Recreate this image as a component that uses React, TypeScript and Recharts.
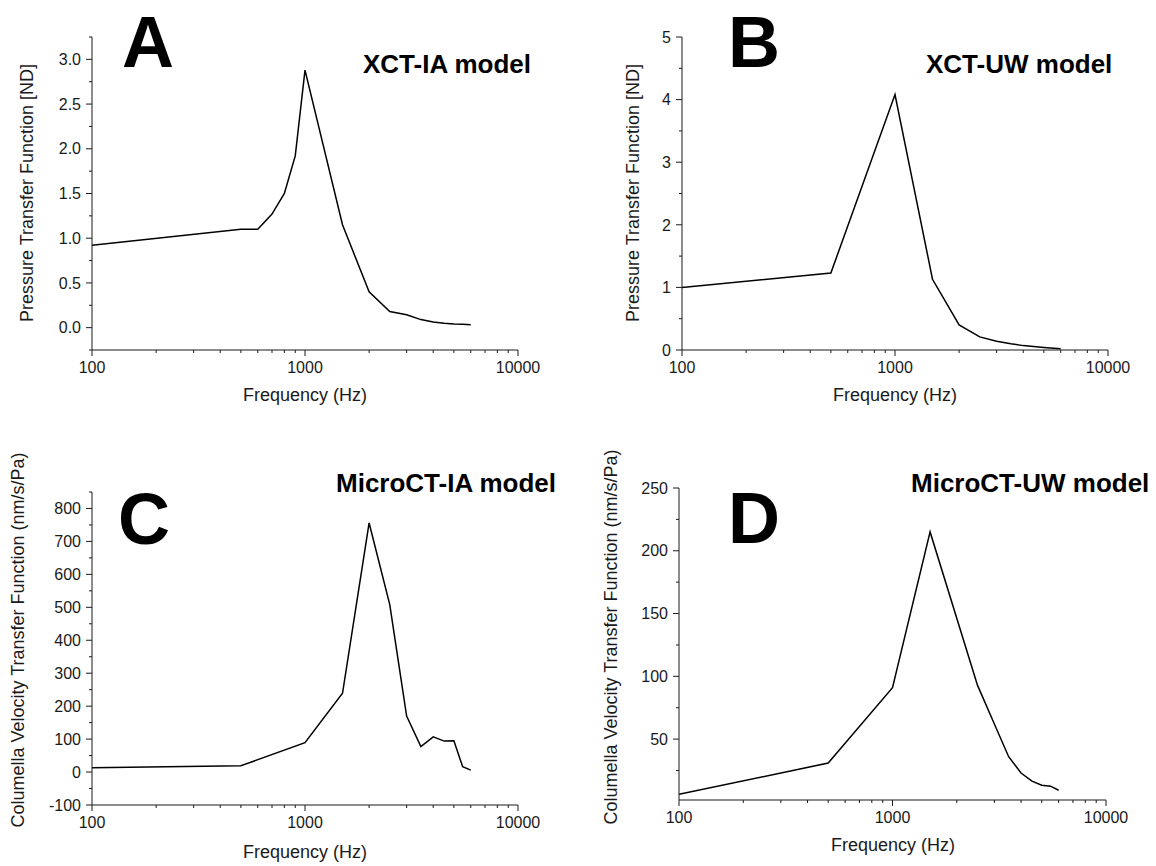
import React from 'react';
import { LineChart, Line, XAxis, YAxis } from 'recharts';

// ---- data ----
const FREQ_A = [100, 500, 600, 700, 800, 900, 1000, 1500, 2000, 2500, 3000, 3500, 4000, 4500, 5000, 5500, 6000];
const PTF_A = [0.92, 1.1, 1.1, 1.27, 1.5, 1.92, 2.88, 1.15, 0.4, 0.18, 0.145, 0.09, 0.064, 0.05, 0.042, 0.037, 0.033];

const FREQ_B = [100, 500, 1000, 1500, 2000, 2500, 3000, 3500, 4000, 5000, 6000];
const PTF_B = [1.0, 1.23, 4.08, 1.13, 0.4, 0.21, 0.14, 0.1, 0.07, 0.04, 0.02];

const FREQ_C = [100, 500, 1000, 1500, 2000, 2500, 3000, 3500, 4000, 4500, 5000, 5500, 6000];
const CVTF_C = [13, 19, 89, 239, 756, 508, 170, 77, 107, 94, 95, 16, 6];

const FREQ_D = [100, 500, 1000, 1500, 2500, 3000, 3500, 4000, 4500, 5000, 5500, 6000];
const CVTF_D = [6, 31, 91, 215, 93, 62, 36, 23, 16.5, 13.3, 12.5, 9.3];

// ---- ticks ----
const X_TICKS = [100, 200, 300, 400, 500, 600, 700, 800, 900, 1000, 2000, 3000, 4000, 5000, 6000, 7000, 8000, 9000, 10000];
const X_MAJOR = [100, 1000, 10000];

const Y_TICKS_A = [-0.25, 0, 0.25, 0.5, 0.75, 1, 1.25, 1.5, 1.75, 2, 2.25, 2.5, 2.75, 3, 3.25];
const Y_MAJOR_A = [0, 0.5, 1, 1.5, 2, 2.5, 3];

const Y_TICKS_B = [0, 0.5, 1, 1.5, 2, 2.5, 3, 3.5, 4, 4.5, 5];
const Y_MAJOR_B = [0, 1, 2, 3, 4, 5];

const Y_TICKS_C = [-100, -50, 0, 50, 100, 150, 200, 250, 300, 350, 400, 450, 500, 550, 600, 650, 700, 750, 800, 850];
const Y_MAJOR_C = [-100, 0, 100, 200, 300, 400, 500, 600, 700, 800];

const Y_TICKS_D = [25, 50, 75, 100, 125, 150, 175, 200, 225, 250];
const Y_MAJOR_D = [50, 100, 150, 200, 250];

const FONT = '"Liberation Sans", Arial, Helvetica, sans-serif';
const AXIS = '#1a1a1a';
const TEXT = '#1a1a1a';

const toData = (f: number[], v: number[]) => f.map((x, i) => ({ f: x, v: v[i] }));

const isIn = (arr: number[], v: number) => arr.some((m) => Math.abs(m - v) < 1e-9);

const XTick = (props: any) => {
  const { x, y, payload } = props;
  const v = payload.value;
  const major = isIn(X_MAJOR, v);
  return (
    <g>
      <line x1={x} y1={y} x2={x} y2={y + (major ? 6 : 3)} stroke={AXIS} strokeWidth={1} />
      {major && (
        <text x={x} y={y + 23} textAnchor="middle" fontSize={16} fill={TEXT} fontFamily={FONT}>
          {String(v)}
        </text>
      )}
    </g>
  );
};

const makeYTick = (majors: number[], fmt: (v: number) => string) => (props: any) => {
  const { x, y, payload } = props;
  const v = payload.value;
  const major = isIn(majors, v);
  return (
    <g>
      <line x1={x - (major ? 6 : 3)} y1={y} x2={x} y2={y} stroke={AXIS} strokeWidth={1} />
      {major && (
        <text x={x - 11} y={y + 5.7} textAnchor="end" fontSize={16} fill={TEXT} fontFamily={FONT}>
          {fmt(v)}
        </text>
      )}
    </g>
  );
};

type PanelProps = {
  left: number;
  top: number;
  height: number;
  margin: { top: number; right: number; bottom: number; left: number };
  yWidth: number;
  data: { f: number; v: number }[];
  yDomain: [number, number];
  yTicks: number[];
  yTick: (p: any) => React.ReactElement;
};

const Panel = ({ left, top, height, margin, yWidth, data, yDomain, yTicks, yTick }: PanelProps) => (
  <div style={{ position: 'absolute', left, top, width: 578, height }}>
    <LineChart width={578} height={height} data={data} margin={margin}>
      <XAxis
        dataKey="f"
        type="number"
        scale="log"
        domain={[100, 10000]}
        ticks={X_TICKS}
        interval={0}
        allowDataOverflow
        height={30}
        tickSize={0}
        tickMargin={0}
        tickLine={false}
        axisLine={{ stroke: AXIS, strokeWidth: 1 }}
        tick={XTick}
      />
      <YAxis
        type="number"
        domain={yDomain}
        ticks={yTicks}
        interval={0}
        allowDataOverflow
        width={yWidth}
        tickSize={0}
        tickMargin={0}
        tickLine={false}
        axisLine={{ stroke: AXIS, strokeWidth: 1 }}
        tick={yTick}
      />
      <Line
        dataKey="v"
        type="linear"
        dot={false}
        stroke="#000"
        strokeWidth={1.5}
        isAnimationActive={false}
      />
    </LineChart>
  </div>
);

const yTickA = makeYTick(Y_MAJOR_A, (v) => v.toFixed(1));
const yTickB = makeYTick(Y_MAJOR_B, (v) => String(v));
const yTickC = makeYTick(Y_MAJOR_C, (v) => String(v));
const yTickD = makeYTick(Y_MAJOR_D, (v) => String(v));

const T = ({ x, y, size, bold, children, anchor }: any) => (
  <text
    x={x}
    y={y}
    fontSize={size}
    fontWeight={bold ? 'bold' : 'normal'}
    fontFamily={FONT}
    fill={bold ? '#000' : TEXT}
    textAnchor={anchor || 'start'}
  >
    {children}
  </text>
);

const VLabel = ({ x, y, children }: any) => (
  <text
    transform={`translate(${x},${y}) rotate(-90)`}
    fontSize={18}
    fontFamily={FONT}
    fill={TEXT}
    textAnchor="middle"
  >
    {children}
  </text>
);

export default function App() {
  return (
    <div style={{ position: 'absolute', left: 0, top: 0, width: 1156, height: 866, background: '#fff', overflow: 'hidden' }}>
      <Panel
        left={0}
        top={0}
        height={430}
        margin={{ top: 37, right: 60, bottom: 50, left: 0 }}
        yWidth={92}
        data={toData(FREQ_A, PTF_A)}
        yDomain={[-0.25, 3.25]}
        yTicks={Y_TICKS_A}
        yTick={yTickA}
      />
      <Panel
        left={578}
        top={0}
        height={430}
        margin={{ top: 37, right: 48, bottom: 50, left: 0 }}
        yWidth={104}
        data={toData(FREQ_B, PTF_B)}
        yDomain={[0, 5]}
        yTicks={Y_TICKS_B}
        yTick={yTickB}
      />
      <Panel
        left={0}
        top={430}
        height={436}
        margin={{ top: 62, right: 60, bottom: 31, left: 0 }}
        yWidth={92}
        data={toData(FREQ_C, CVTF_C)}
        yDomain={[-100, 850]}
        yTicks={Y_TICKS_C}
        yTick={yTickC}
      />
      <Panel
        left={578}
        top={430}
        height={436}
        margin={{ top: 58, right: 50, bottom: 36, left: 0 }}
        yWidth={101}
        data={toData(FREQ_D, CVTF_D)}
        yDomain={[1.5, 250]}
        yTicks={Y_TICKS_D}
        yTick={yTickD}
      />
      <svg
        width={1156}
        height={866}
        style={{ position: 'absolute', left: 0, top: 0, pointerEvents: 'none' }}
      >
        <T x={122} y={67} size={72} bold>A</T>
        <T x={363} y={73} size={26} bold>XCT-IA model</T>
        <T x={728} y={67} size={72} bold>B</T>
        <T x={926} y={73} size={26} bold>XCT-UW model</T>
        <T x={118} y={544} size={72} bold>C</T>
        <T x={336} y={492} size={26} bold>MicroCT-IA model</T>
        <T x={728} y={543} size={72} bold>D</T>
        <T x={911} y={492} size={26} bold>MicroCT-UW model</T>

        <VLabel x={33} y={193}>Pressure Transfer Function [ND]</VLabel>
        <VLabel x={639} y={193}>Pressure Transfer Function [ND]</VLabel>
        <VLabel x={24} y={640}>Columella Velocity Transfer Function (nm/s/Pa)</VLabel>
        <VLabel x={617} y={637}>Columella Velocity Transfer Function (nm/s/Pa)</VLabel>

        <T x={305} y={401} size={18} anchor="middle">Frequency (Hz)</T>
        <T x={895} y={401} size={18} anchor="middle">Frequency (Hz)</T>
        <T x={305} y={858} size={18} anchor="middle">Frequency (Hz)</T>
        <T x={893} y={851} size={18} anchor="middle">Frequency (Hz)</T>
      </svg>
    </div>
  );
}
